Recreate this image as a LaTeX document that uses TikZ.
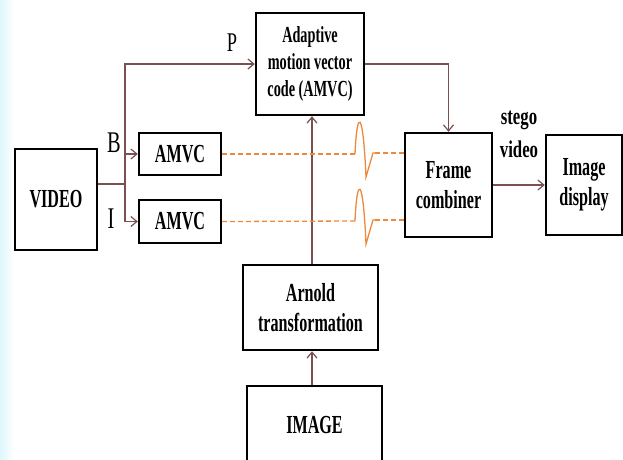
\documentclass[tikz,border=0pt]{standalone}
\usepackage{fontspec}
\setmainfont{Liberation Serif}[FakeStretch=0.62]
\newfontfamily\svfont{Liberation Serif}[FakeStretch=0.7]
\newfontfamily\lblfont{Liberation Serif}[FakeStretch=0.68]
\usetikzlibrary{arrows.meta}
\definecolor{conn}{RGB}{122,80,82}
\definecolor{dashc}{RGB}{240,136,58}
\definecolor{edge}{RGB}{222,246,251}
\begin{document}
\begin{tikzpicture}[x=1pt,y=-1pt,
 box/.style={draw=black,line width=2.4pt,inner sep=0pt,align=center,font=\fontsize{26}{29.5}\selectfont\bfseries},
 arr/.style={draw=conn,line width=1.2pt,-{Straight Barb[length=6pt,width=10pt]}},
 link/.style={draw=conn,line width=1.2pt},
 dsh/.style={draw=dashc,line width=1.3pt,dash pattern=on 5pt off 3pt},
 spike/.style={draw=dashc,line width=1.3pt,line join=miter},
 lbl/.style={inner sep=0pt,font=\lblfont\fontsize{30}{32}\selectfont},
]
\useasboundingbox (0,0) rectangle (623,459);
\shade[left color=edge,right color=white] (0,0) rectangle (14,459);

\node[box,minimum width=82pt,minimum height=101pt] (video) at (56,199.5) {VIDEO};
\node[box,minimum width=82pt,minimum height=42pt] (am1) at (180,154) {AMVC};
\node[box,minimum width=82pt,minimum height=43pt] (am2) at (180,221.5) {AMVC};
\node[box,minimum width=108pt,minimum height=102pt,font=\fontsize{23}{26.7}\selectfont\bfseries] (amv) at (310,64) {Adaptive\\motion vector\\code (AMVC)};
\node[box,minimum width=87pt,minimum height=104pt] (fc) at (448.5,185) {Frame\\combiner};
\node[box,minimum width=76pt,minimum height=100pt] (id) at (584,185) {Image\\display};
\node[box,minimum width=135pt,minimum height=85pt] (arn) at (310.5,307.5) {Arnold\\transformation};
\node[box,minimum width=135pt,minimum height=78pt] (img) at (314.5,425) {IMAGE};

\node[lbl,font=\lblfont\fontsize{27}{30}\selectfont] (lp) at (232,43) {P};
\node[lbl] (lb) at (114,143) {B};
\node[lbl] (li) at (111,219) {I};
\node[align=center,inner sep=0pt,font=\svfont\fontsize{24}{33}\selectfont\bfseries] (sv) at (519,134) {stego\\video};

% video branches
\coordinate (br) at (125,184);
\draw[link] (video.east |- br) -- (br);
\draw[arr] (br) -- (br |- amv.west) -- (amv.west);
\draw[arr] (br) -- (br |- am1.west) -- (am1.west);
\draw[arr] (br) -- (br |- am2.west) -- (am2.west);

% image path
\coordinate (vx) at (312,0);
\draw[arr] (vx |- img.north) -- (vx |- arn.south);
\draw[arr] (vx |- arn.north) -- (vx |- amv.south);

% to frame combiner and display
\draw[arr] (amv.east) -| (fc.north);
\draw[arr] (fc.east) -- (id.west);

% dashed orange lines with spikes
\coordinate (s1a) at (355,154);
\coordinate (s1b) at (375,153);
\draw[dsh] (am1.east) -- (s1a);
\draw[spike] (s1a) .. controls (357,108) and (363,108) .. (366,177) -- (373,153) -- (s1b);
\draw[dsh] (s1b) -- (fc.west |- s1b);

\coordinate (s2a) at (355,221);
\coordinate (s2b) at (375,220);
\draw[dsh] (am2.east) -- (s2a);
\draw[spike] (s2a) .. controls (357,175) and (363,175) .. (366,244) -- (373,220) -- (s2b);
\draw[dsh] (s2b) -- (fc.west |- s2b);
\end{tikzpicture}
\end{document}
